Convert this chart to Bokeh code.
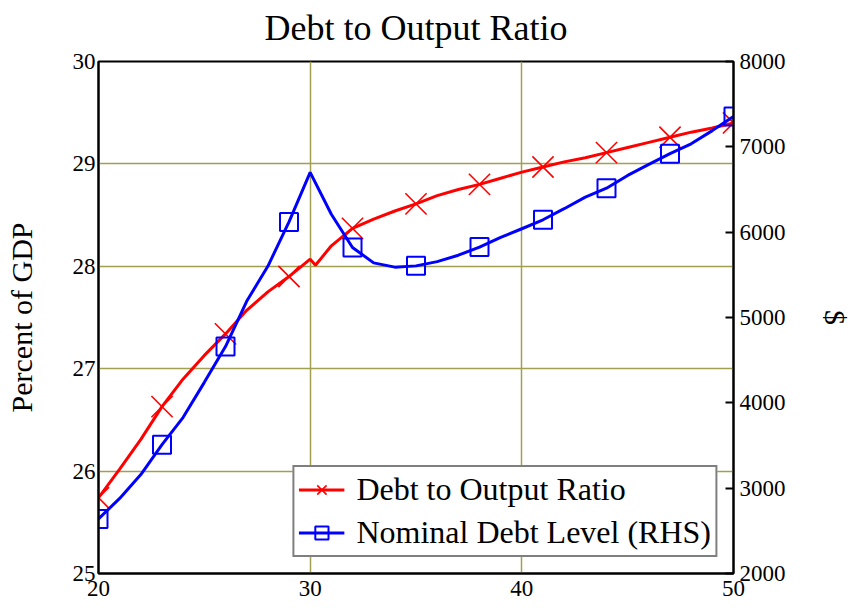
from bokeh.plotting import figure
from bokeh.models import Range1d, LinearAxis, FixedTicker, Legend, LegendItem
from bokeh.embed import file_html
from bokeh.resources import INLINE

# ---- data ----
red_x = [20, 21, 22, 23, 24, 25, 26, 27, 28, 29, 30, 30.25, 31, 32, 33, 34, 35,
         36, 37, 38, 39, 40, 41, 42, 43, 44, 45, 46, 47, 48, 49, 50]
red_y = [25.74, 26.02, 26.31, 26.63, 26.90, 27.13, 27.34, 27.57, 27.75, 27.90,
         28.07, 28.01, 28.20, 28.37, 28.46, 28.54, 28.61, 28.69, 28.75, 28.80,
         28.86, 28.92, 28.97, 29.02, 29.06, 29.11, 29.16, 29.21, 29.26, 29.31,
         29.35, 29.40]

blue_x = [20, 21, 22, 23, 24, 25, 26, 27, 28, 29, 30, 31, 32, 33, 34, 35,
          36, 37, 38, 39, 40, 41, 42, 43, 44, 45, 46, 47, 48, 49, 50]
blue_y = [2640, 2880, 3160, 3510, 3830, 4240, 4660, 5190, 5600, 6120, 6700,
          6210, 5820, 5640, 5590, 5605, 5655, 5730, 5825, 5940, 6040, 6145,
          6275, 6410, 6515, 6665, 6795, 6920, 7035, 7190, 7355]

marker_x = [20, 23, 26, 29, 32, 35, 38, 41, 44, 47, 50]

x_ticks = [20, 30, 40, 50]
left_ticks = [25, 26, 27, 28, 29, 30]
right_ticks = [2000, 3000, 4000, 5000, 6000, 7000, 8000]

title_text = "Debt to Output Ratio"
left_label = "Percent of GDP"
right_label = "$"
red_name = "Debt to Output Ratio"
blue_name = "Nominal Debt Level (RHS)"

FONT = "Liberation Serif"
RED = "#ff0000"
BLUE = "#0000ff"
GRID = "#a0a050"

red_mx = [x for x in red_x if x in marker_x]
red_my = [y for x, y in zip(red_x, red_y) if x in marker_x]
blue_mx = [x for x in blue_x if x in marker_x]
blue_my = [y for x, y in zip(blue_x, blue_y) if x in marker_x]

p = figure(frame_width=635, frame_height=512, output_backend="svg",
           toolbar_location=None,
           x_range=Range1d(20, 50), y_range=Range1d(25, 30),
           min_border_left=98, min_border_right=60, min_border_top=53,
           min_border_bottom=33, title=title_text)
p.extra_y_ranges = {"dollars": Range1d(2000, 8000)}

p.title.text_font = FONT
p.title.text_font_size = "36px"
p.title.text_font_style = "normal"
p.title.align = "center"
p.title.text_color = "black"
p.title.standoff = 11
p.title.padding = dict(left=0, right=0, top=0, bottom=8)

p.outline_line_color = "black"
p.outline_line_width = 2
p.background_fill_color = "white"

# x axis
xa = p.xaxis[0]
xa.ticker = FixedTicker(ticks=x_ticks)
xa.major_tick_out = 0
xa.major_tick_in = 0
xa.minor_tick_out = 0
xa.minor_tick_in = 0
xa.axis_line_color = "black"
xa.axis_line_width = 2
xa.major_label_text_font = FONT
xa.major_label_text_font_size = "23px"
xa.major_label_text_color = "black"
xa.major_label_standoff = 7

# left axis
ya = p.yaxis[0]
ya.ticker = FixedTicker(ticks=left_ticks)
ya.major_tick_out = 0
ya.major_tick_in = 0
ya.minor_tick_out = 0
ya.minor_tick_in = 0
ya.axis_line_color = "black"
ya.axis_line_width = 2
ya.major_label_text_font = FONT
ya.major_label_text_font_size = "23px"
ya.major_label_text_color = "black"
ya.major_label_standoff = 3
ya.axis_label = left_label
ya.axis_label_text_font = FONT
ya.axis_label_text_font_size = "30px"
ya.axis_label_text_font_style = "normal"
ya.axis_label_text_color = "black"
ya.axis_label_standoff = 32

# right axis
ra = LinearAxis(y_range_name="dollars", ticker=FixedTicker(ticks=right_ticks))
ra.major_tick_out = 0
ra.major_tick_in = 8
ra.major_tick_line_width = 2
ra.minor_tick_out = 0
ra.minor_tick_in = 0
ra.axis_line_color = "black"
ra.axis_line_width = 2
ra.major_label_text_font = FONT
ra.major_label_text_font_size = "23px"
ra.major_label_text_color = "black"
ra.major_label_standoff = 6
ra.axis_label = right_label
ra.axis_label_text_font = FONT
ra.axis_label_text_font_size = "30px"
ra.axis_label_text_font_style = "normal"
ra.axis_label_text_color = "black"
ra.axis_label_standoff = 30
p.add_layout(ra, "right")

# grids
p.xgrid.ticker = FixedTicker(ticks=[30, 40])
p.ygrid.ticker = FixedTicker(ticks=[26, 27, 28, 29])
p.xgrid.grid_line_color = GRID
p.ygrid.grid_line_color = GRID
p.xgrid.grid_line_width = 1.5
p.ygrid.grid_line_width = 1.5

# series
r_line = p.line(red_x, red_y, line_color=RED, line_width=3)
r_mark = p.scatter(red_mx, red_my, marker="x", size=30, line_color=RED,
                   line_width=1.6)
b_line = p.line(blue_x, blue_y, line_color=BLUE, line_width=3,
                y_range_name="dollars")
b_mark = p.scatter(blue_mx, blue_my, marker="square", size=18, line_color=BLUE,
                   fill_color=None, line_width=2, y_range_name="dollars")

legend = Legend(items=[LegendItem(label=red_name, renderers=[r_line, r_mark]),
                       LegendItem(label=blue_name, renderers=[b_line, b_mark])],
                location="bottom_right")
legend.label_text_font = FONT
legend.label_text_font_size = "32px"
legend.label_text_color = "black"
legend.border_line_color = "black"
legend.border_line_width = 2
legend.background_fill_color = "white"
legend.background_fill_alpha = 1.0
legend.glyph_width = 46
legend.glyph_height = 33
legend.label_standoff = 12
legend.label_height = 33
legend.padding = 4
legend.spacing = 6
legend.margin = 16
p.add_layout(legend, "center")

open("out.html", "w").write(file_html(p, INLINE))
